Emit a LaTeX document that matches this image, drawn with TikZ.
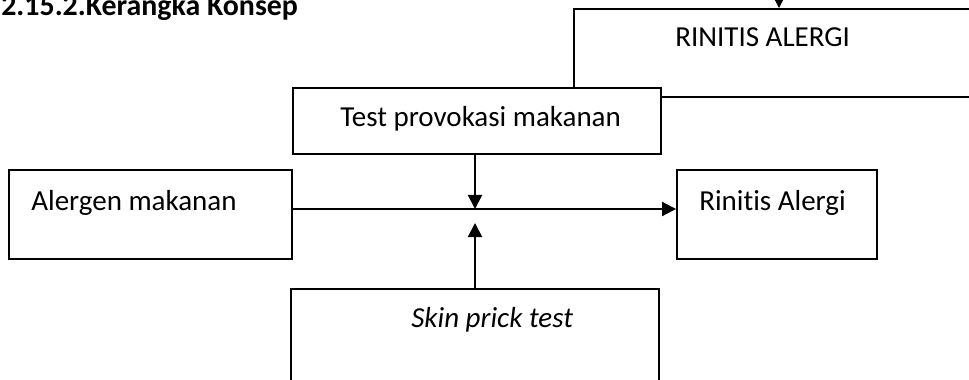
\documentclass[tikz,border=0pt]{standalone}
\usepackage{fontspec}
\setmainfont{Carlito}[Ligatures=NoCommon]
\usetikzlibrary{arrows.meta}

\begin{document}
\begin{tikzpicture}[x=0.02cm,y=-0.02cm,
  box/.style={draw,fill=white,line width=1.1pt,inner sep=0pt},
  lbl/.style={anchor=base west,inner sep=0pt,font=\fontsize{16.5}{20}\selectfont},
  conn/.style={line width=1.1pt,-{Triangle[length=8pt,width=8pt]}}]
\useasboundingbox (0,0) rectangle (969,379);
\clip (0,0) rectangle (969,379);
\node[lbl,font=\fontsize{17}{20}\selectfont\bfseries] (judul) at (1,15) {2.15.2.Kerangka Konsep};
\node[box,minimum width=8.72cm,minimum height=1.76cm] (ra) at (792,53) {};
\node[lbl] (raText) at (675,46.5) {RINITIS ALERGI};
\node[box,minimum width=7.36cm,minimum height=1.32cm] (tpm) at (477,121) {};
\node[lbl] (tpmText) at (340,126) {Test provokasi makanan};
\node[box,minimum width=5.66cm,minimum height=1.78cm] (am) at (150.5,214.5) {};
\node[lbl] (amText) at (31,210) {Alergen makanan};
\node[box,minimum width=4cm,minimum height=1.78cm] (rin) at (777,214.5) {};
\node[lbl] (rinText) at (699,210) {Rinitis Alergi};
\node[box,minimum width=7.36cm,minimum height=2.62cm] (spt) at (475,354.5) {};
\node[lbl] (sptText) at (411,327) {\itshape Skin prick test};
\coordinate (j) at (475,209);
\coordinate (k) at (475,223);
\coordinate (t) at (779,-20);
\draw[conn] (am.east |- j) -- (rin.west |- j);
\draw[conn] (tpm.south -| j) -- (j);
\draw[conn] (spt.north -| k) -- (k);
\draw[conn] (t) -- (ra.north -| t);
\end{tikzpicture}
\end{document}
